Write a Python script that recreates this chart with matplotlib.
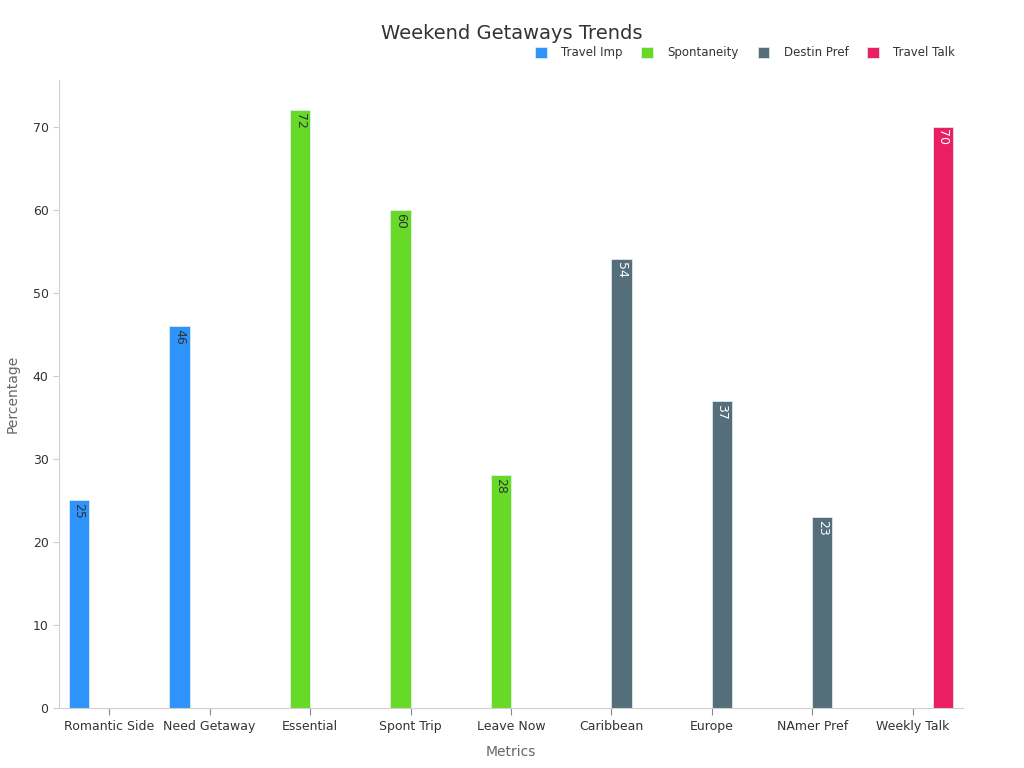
import matplotlib
matplotlib.use("Agg")
import matplotlib.pyplot as plt
import numpy as np

categories = ["Romantic Side", "Need Getaway", "Essential", "Spont Trip", "Leave Now",
              "Caribbean", "Europe", "NAmer Pref", "Weekly Talk"]
series_names = ["Travel Imp", "Spontaneity", "Destin Pref", "Travel Talk"]
travel_imp = [25, 46, None, None, None, None, None, None, None]
spontaneity = [None, None, 72, 60, 28, None, None, None, None]
destin_pref = [None, None, None, None, None, 54, 37, 23, None]
travel_talk = [None, None, None, None, None, None, None, None, 70]
series_values = [travel_imp, spontaneity, destin_pref, travel_talk]
colors = ["#2E93FA", "#66DA26", "#546E7A", "#E91E63"]
label_colors = ["#333333", "#333333", "#ffffff", "#ffffff"]

fig = plt.figure(figsize=(10.24, 7.68), dpi=100)
ax = fig.add_axes([0.0576, 0.0781, 0.8828, 0.8177])

x = np.arange(len(categories))
bw = 0.2
for i, (name, vals) in enumerate(zip(series_names, series_values)):
    off = (i - 1.5) * bw
    xs = [x[j] + off for j, v in enumerate(vals) if v is not None]
    ys = [v for v in vals if v is not None]
    ax.bar(xs, ys, width=bw, color=colors[i], edgecolor="#e8f0f8", linewidth=0.5,
           label=name)
    for xx, yy in zip(xs, ys):
        ax.text(xx, yy - 0.35, str(yy), rotation=270, ha="center", va="top",
                fontsize=9, color=label_colors[i])

ax.set_xlim(-0.5, 8.5)
ax.set_ylim(0, 75.6)
ax.set_xticks(x)
ax.set_xticklabels(categories, fontsize=9, color="#333333")
ax.set_yticks(np.arange(0, 80, 10))
ax.tick_params(axis="y", labelsize=9, colors="#333333", length=4, color="#cccccc")
ax.tick_params(axis="x", length=5, color="#888888")
for s in ["top", "right"]:
    ax.spines[s].set_visible(False)
for s in ["left", "bottom"]:
    ax.spines[s].set_color("#d0d0d0")
ax.set_xlabel("Metrics", fontsize=10, color="#666666", labelpad=9)
ax.set_ylabel("Percentage", fontsize=10, color="#666666", labelpad=9)

fig.text(0.5, 0.957, "Weekend Getaways Trends", ha="center", va="center",
         fontsize=14, color="#333333")
leg = fig.legend(loc="center right", bbox_to_anchor=(0.943, 0.931), ncol=4, frameon=False,
                 fontsize=8.5, handlelength=1.0, handleheight=1.0, columnspacing=1.6,
                 handletextpad=1.2)
for t in leg.get_texts():
    t.set_color("#333333")

fig.savefig("out.png", dpi=100)
